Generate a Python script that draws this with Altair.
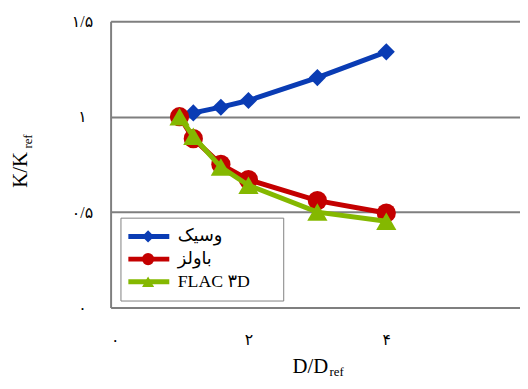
import altair as alt
import pandas as pd

# ---------------- data ----------------
series_names = ["وسیک", "باولز", "FLAC ۳D"]
series_colors = ["#0a3cb4", "#c40000", "#84b800"]
series_shapes = ["diamond", "circle", "triangle-up"]
series_sizes = [300, 380, 420]

x_vesic = [1, 1.2, 1.6, 2, 3, 4]
y_vesic = [1.0, 1.02, 1.05, 1.085, 1.205, 1.34]
x_bowles = [1, 1.2, 1.6, 2, 3, 4]
y_bowles = [1.0, 0.885, 0.75, 0.67, 0.56, 0.495]
x_flac = [1, 1.2, 1.6, 2, 3, 4]
y_flac = [1.0, 0.897, 0.736, 0.641, 0.5, 0.452]

x_ticks = [0, 2, 4]
x_tick_labels = ["۰", "۲", "۴"]
y_ticks = [0, 0.5, 1, 1.5]
y_tick_labels = ["۰", "۰/۵", "۱", "۱/۵"]

x_title = "D/D"
y_title = "K/K"
sub_text = ["ref"]

# ---------------- table ----------------
marker_keys = [n + " (m)" for n in series_names]
rows = []
for name, key, xs, ys in zip(series_names, marker_keys, [x_vesic, x_bowles, x_flac], [y_vesic, y_bowles, y_flac]):
    for xv, yv in zip(xs, ys):
        rows.append({"x": xv, "y": yv, "series": name, "s2": key})
df = pd.DataFrame(rows)


def label_expr(vals, labels):
    expr = "''"
    for v, l in zip(reversed(vals), reversed(labels)):
        expr = f"datum.value == {v} ? '{l}' : ({expr})"
    return expr


SERIF = "Liberation Serif, Times New Roman, DejaVu Sans"
GRID = "#7f7f7f"

x_enc = alt.X(
    "x:Q",
    scale=alt.Scale(domain=[0, 5.94], nice=False, zero=False),
    axis=alt.Axis(
        values=x_ticks, labelExpr=label_expr(x_ticks, x_tick_labels),
        grid=False, domain=False, ticks=False, labelPadding=25,
        labelFont=SERIF, labelFontSize=16, labelColor="black",
        title=x_title, titleFont=SERIF, titleFontSize=21, titleFontWeight="normal",
        titleColor="black", titleX=202, titleY=66, titleAlign="center",
        titleBaseline="alphabetic",
    ),
)
y_enc = alt.Y(
    "y:Q",
    scale=alt.Scale(domain=[0, 1.5], nice=False),
    axis=alt.Axis(
        values=y_ticks, labelExpr=label_expr(y_ticks, y_tick_labels),
        grid=True, gridColor=GRID, gridWidth=2, gridOpacity=1,
        domain=True, domainColor=GRID, domainWidth=2, ticks=False,
        labelAlign="center", labelPadding=29, labelFont=SERIF,
        labelFontSize=16, labelColor="black",
        title=y_title, titleFont=SERIF, titleFontSize=21, titleFontWeight="normal",
        titleColor="black", titleAngle=270, titleX=-85, titleY=150,
        titleAlign="center", titleBaseline="alphabetic",
    ),
)

legend_a = alt.Legend(
    orient="none", legendX=10, legendY=199, direction="vertical", title=None,
    strokeColor="#808080", padding=8, clipHeight=22, rowPadding=1,
    symbolType="stroke", symbolSize=1936, symbolStrokeWidth=5, symbolOffset=-5,
    labelFont=SERIF, labelFontSize=18, labelColor="black", labelOffset=6,
    labelExpr="datum.label + '\u2002\u2009\u2800'",
)
legend_b = alt.Legend(
    orient="none", legendX=23.5, legendY=199, direction="vertical", title=None,
    padding=8, clipHeight=22, rowPadding=1, symbolSize=150, symbolStrokeWidth=0,
    labelFont=SERIF, labelFontSize=12, labelExpr="''",
)

color_scale = alt.Scale(domain=series_names, range=series_colors)
fill_scale = alt.Scale(domain=marker_keys, range=series_colors)
shape_scale = alt.Scale(domain=marker_keys, range=series_shapes)

layers = []
base = alt.Chart(df)
for name, size in zip(series_names, series_sizes):
    d = base.transform_filter(alt.datum.series == name)
    layers.append(
        d.mark_line(strokeWidth=5).encode(
            x=x_enc, y=y_enc,
            color=alt.Color("series:N", scale=color_scale, legend=legend_a),
        )
    )
    layers.append(
        d.mark_point(filled=True, opacity=1, size=size, strokeWidth=0).encode(
            x=x_enc, y=y_enc,
            fill=alt.Fill("s2:N", scale=fill_scale, legend=legend_b),
            shape=alt.Shape("s2:N", scale=shape_scale, legend=legend_b),
        )
    )

sub_df = pd.DataFrame({"t": sub_text})
x_sub = alt.Chart(sub_df).mark_text(
    font=SERIF, fontSize=13, align="left", baseline="alphabetic", color="black"
).encode(text="t:N", x=alt.value(222), y=alt.value(360))
y_sub = alt.Chart(sub_df).mark_text(
    font=SERIF, fontSize=13, align="left", baseline="alphabetic", color="black", angle=270
).encode(text="t:N", x=alt.value(-80), y=alt.value(129))
layers += [x_sub, y_sub]

chart = (
    alt.layer(*layers)
    .properties(
        width=415, height=290,
        autosize=alt.AutoSizeParams(type="none"),
        padding={"left": 104, "top": 11, "right": 0, "bottom": 70},
        background="white",
    )
    .configure_view(stroke=None)
)

chart.save("out.html", embed_options={"renderer": "svg", "actions": False})
